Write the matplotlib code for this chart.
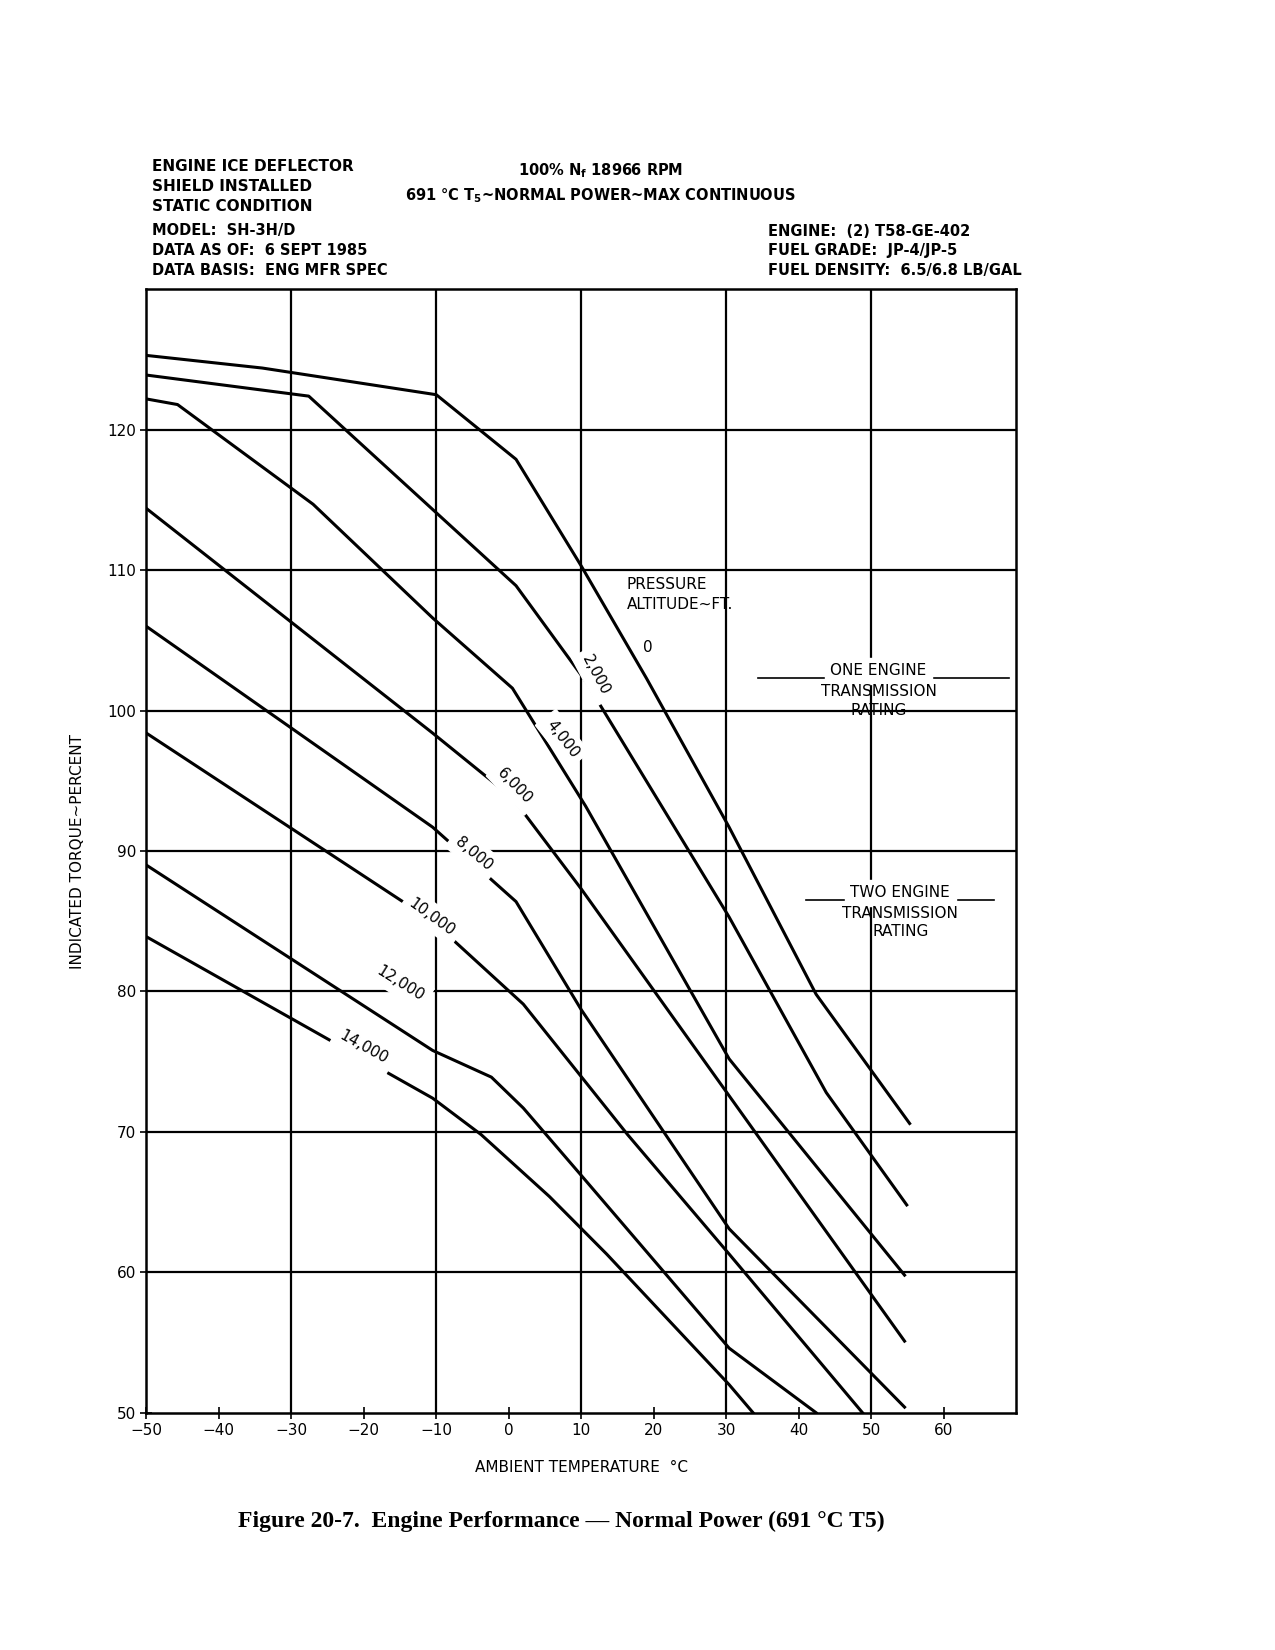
import numpy as np
import matplotlib
matplotlib.use("Agg")
import matplotlib.pyplot as plt

plt.rcParams['font.family'] = ['DejaVu Sans']

# altitude curves (temperature degC, torque %)
alt_labels = ["0", "2,000", "4,000", "6,000", "8,000", "10,000", "12,000", "14,000"]
t_0 = [-50, -34, -10, 1, 10, 19, 30.4, 42.4, 55.3]
q_0 = [125.3, 124.4, 122.5, 117.9, 110.3, 102.3, 91.7, 79.8, 70.6]
t_2k = [-50, -27.6, 1, 10.6, 30.4, 43.8, 54.9]
q_2k = [123.9, 122.4, 108.9, 102.1, 85.3, 72.8, 64.8]
t_4k = [-50, -45.7, -27, -10.5, 0.5, 10.6, 30.4, 54.6]
q_4k = [122.2, 121.8, 114.7, 106.6, 101.6, 93.2, 75.2, 59.8]
t_6k = [-50, -10.5, 0.5, 10, 54.6]
q_6k = [114.4, 98.4, 93.8, 87.3, 55.1]
t_8k = [-50, -10.5, 1, 10, 30.4, 54.6]
q_8k = [106.0, 91.7, 86.4, 78.7, 63.1, 50.4]
t_10k = [-50, -10.5, 2, 16.4, 30.4, 48.8]
q_10k = [98.4, 85.0, 79.1, 69.8, 61.3, 50.0]
t_12k = [-50, -10.5, -2.4, 2, 10, 30.4, 42.4]
q_12k = [89.0, 75.8, 73.9, 71.7, 66.9, 54.6, 50.0]
t_14k = [-50, -10.5, -3.8, 5.6, 13.5, 30.4, 33.7]
q_14k = [83.9, 72.4, 69.8, 65.4, 61.3, 52.0, 50.0]
curves_t = [t_0, t_2k, t_4k, t_6k, t_8k, t_10k, t_12k, t_14k]
curves_q = [q_0, q_2k, q_4k, q_6k, q_8k, q_10k, q_12k, q_14k]

# label positions (temperature, torque, rotation)
lab_pos = [(19.2, 104.5, 0), (12.0, 102.5, -62), (7.4, 98.0, -52), (0.8, 94.6, -46),
           (-4.8, 89.8, -40), (-10.6, 85.3, -36), (-15, 80.6, -32), (-20, 76.0, -29)]

one_eng = 102.3
two_eng = 86.5

fig = plt.figure(figsize=(12.75, 16.5), dpi=100)
ax = fig.add_axes([0.1148, 0.1438, 0.6822, 0.6808])
for t, q in zip(curves_t, curves_q):
    ax.plot(t, q, color='black', lw=2.2)
for lab, (x, y, r) in zip(alt_labels, lab_pos):
    ax.text(x, y, lab, rotation=r, ha='center', va='center', fontsize=11,
            backgroundcolor='white' if lab != "0" else 'none')

ax.text(16.3, 108.3, "PRESSURE\nALTITUDE~FT.", fontsize=11, ha='left', va='center', linespacing=1.4)

ax.plot([34.4, 69], [one_eng, one_eng], color='black', lw=1.2)
ax.text(51, one_eng, "ONE ENGINE", ha='center', va='bottom', fontsize=11, backgroundcolor='white')
ax.text(51, one_eng - 0.4, "TRANSMISSION\nRATING", ha='center', va='top', fontsize=11, linespacing=1.3)
ax.plot([41, 67], [two_eng, two_eng], color='black', lw=1.2)
ax.text(54, two_eng, "TWO ENGINE", ha='center', va='bottom', fontsize=11, backgroundcolor='white')
ax.text(54, two_eng - 0.4, "TRANSMISSION\nRATING", ha='center', va='top', fontsize=11, linespacing=1.3)

ax.set_xlim(-50, 70)
ax.set_ylim(50, 130)
ax.set_xticks(np.arange(-50, 61, 10))
ax.set_xticklabels(["\u221250", "\u221240", "\u221230", "\u221220", "\u221210", "0",
                    "10", "20", "30", "40", "50", "60"], fontsize=11)
ax.set_yticks(np.arange(50, 121, 10))
ax.set_yticklabels([str(v) for v in range(50, 121, 10)], fontsize=11)
for xv in range(-30, 70, 20):
    ax.axvline(xv, color='black', lw=1.6)
for yv in range(60, 130, 10):
    ax.axhline(yv, color='black', lw=1.6)
for s in ax.spines.values():
    s.set_linewidth(1.8)
ax.tick_params(direction='inout', length=8, width=1.2)
ax.set_xlabel("AMBIENT TEMPERATURE  \u00b0C", fontsize=11, labelpad=16)
ax.set_ylabel("INDICATED TORQUE~PERCENT", fontsize=11, labelpad=16)

fig.text(0.119, 0.887, "ENGINE ICE DEFLECTOR\nSHIELD INSTALLED\nSTATIC CONDITION",
         fontsize=11, fontweight='bold', va='center', linespacing=1.4)
fig.text(0.119, 0.848, "MODEL:  SH-3H/D\nDATA AS OF:  6 SEPT 1985\nDATA BASIS:  ENG MFR SPEC",
         fontsize=10.5, fontweight='bold', va='center', linespacing=1.4)
fig.text(0.471, 0.889, "100% N$_\\mathregular{f}$ 18966 RPM\n691 \u00b0C T$_\\mathregular{5}$~NORMAL POWER~MAX CONTINUOUS",
         fontsize=10.5, fontweight='bold', ha='center', va='center', linespacing=1.4)
fig.text(0.602, 0.848, "ENGINE:  (2) T58-GE-402\nFUEL GRADE:  JP-4/JP-5\nFUEL DENSITY:  6.5/6.8 LB/GAL",
         fontsize=10.5, fontweight='bold', va='center', linespacing=1.4)
fig.text(0.44, 0.078, "Figure 20-7.  Engine Performance \u2014 Normal Power (691 \u00b0C T5)",
         fontsize=17, fontweight='bold', family='Liberation Serif', ha='center', va='center')

fig.savefig("out.png", dpi=100)
